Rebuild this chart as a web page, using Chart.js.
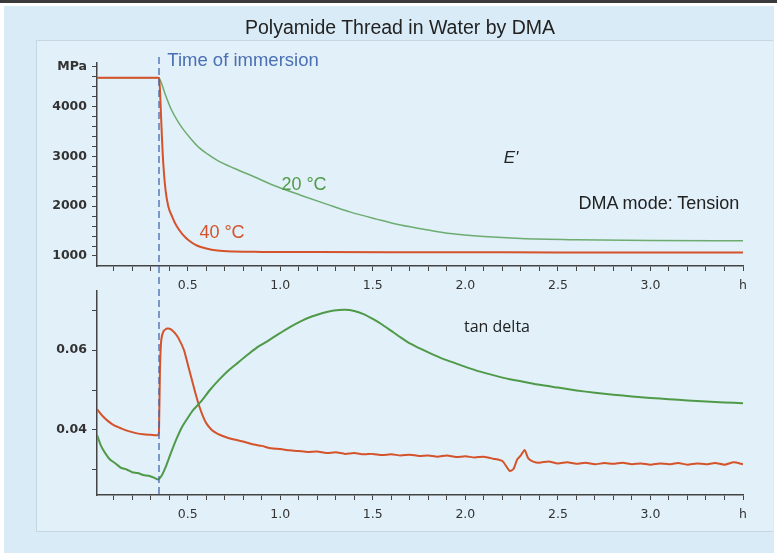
<!DOCTYPE html>
<html>
<head>
<meta charset="utf-8">
<script src="https://cdn.jsdelivr.net/npm/chart.js@4.4.0/dist/chart.umd.min.js"></script>
<style>
body { margin: 0; background: #fff; font-family: 'Liberation Sans', Arial, sans-serif; }
#page { position: relative; width: 777px; height: 553px; overflow: hidden; background: #fff; }
#rule { position: absolute; left: 0; top: 0; width: 777px; height: 3px; background: #3a3a3a; }
#outer { position: absolute; left: 4px; top: 6px; width: 770px; height: 547px; background: #d9ebf6; }
#inner { position: absolute; left: 36px; top: 40px; width: 736px; height: 490px; background: #e2f0f9; border: 1px solid #c5d7e3; border-right: none; }
.lbl { position: absolute; white-space: nowrap; transform: translate(-50%, -50%); }
canvas { position: absolute; left: 0; }
</style>
</head>
<body>
<div id="page">
  <div id="rule"></div>
  <div id="outer"></div>
  <div id="inner"></div>
  <canvas id="topChart" width="777" height="300" style="top:0"></canvas>
  <canvas id="botChart" width="777" height="283" style="top:270px"></canvas>
  <div class="lbl" style="left:400px;top:27px;font-size:19.5px;color:#222">Polyamide Thread in Water by DMA</div>
  <div class="lbl" style="left:243px;top:60px;font-size:18.5px;color:#4a6fb3">Time of immersion</div>
  <div class="lbl" style="left:511px;top:158px;font-size:17px;font-style:italic;color:#222">E'</div>
  <div class="lbl" style="left:304px;top:184px;font-size:18px;color:#4f9a48">20 °C</div>
  <div class="lbl" style="left:222px;top:232px;font-size:18px;color:#d4532a">40 °C</div>
  <div class="lbl" style="left:659px;top:203px;font-size:18px;color:#222">DMA mode: Tension</div>
  <div class="lbl" style="left:497px;top:326px;font-size:16px;color:#222;font-family:'Open Sans',sans-serif">tan delta</div>
</div>
<script>
// time of immersion in h
const immersionTime = 0.345;

// storage modulus E' (MPa)
const timeE20 = [0.01, 0.34, 0.345, 0.35, 0.36, 0.38, 0.41, 0.45, 0.48, 0.52, 0.56, 0.61, 0.66, 0.75, 0.84, 0.97, 1.11, 1.25, 1.38, 1.52, 1.65, 1.80, 1.92, 2.10, 2.30, 2.60, 3.00, 3.50];
const modE20 = [4575, 4575, 4572, 4540, 4450, 4230, 3950, 3680, 3520, 3340, 3180, 3040, 2920, 2760, 2620, 2410, 2220, 2040, 1880, 1740, 1620, 1520, 1450, 1390, 1350, 1325, 1310, 1305];
const timeE40 = [0.01, 0.34, 0.345, 0.35, 0.355, 0.36, 0.365, 0.372, 0.381, 0.395, 0.417, 0.44, 0.471, 0.51, 0.552, 0.60, 0.66, 0.75, 0.90, 1.20, 1.60, 2.00, 2.50, 3.00, 3.50];
const modE40 = [4575, 4575, 4570, 4350, 3900, 3450, 3050, 2650, 2300, 2000, 1780, 1600, 1440, 1300, 1205, 1150, 1110, 1090, 1082, 1078, 1075, 1073, 1072, 1071, 1070];

// tan delta
const timeTan20 = [0.01, 0.03, 0.05, 0.08, 0.11, 0.14, 0.17, 0.20, 0.23, 0.26, 0.29, 0.32, 0.34, 0.36, 0.38, 0.41, 0.44, 0.47, 0.50, 0.53, 0.57, 0.62, 0.67, 0.72, 0.77, 0.82, 0.87, 0.93, 0.99, 1.05, 1.11, 1.17, 1.23, 1.29, 1.35, 1.40, 1.45, 1.50, 1.55, 1.60, 1.65, 1.70, 1.76, 1.82, 1.88, 1.94, 2.00, 2.08, 2.16, 2.24, 2.32, 2.40, 2.50, 2.60, 2.70, 2.80, 2.90, 3.00, 3.10, 3.20, 3.30, 3.40, 3.50];
const tan20 = [0.0388, 0.0362, 0.0345, 0.0326, 0.0316, 0.0305, 0.0301, 0.0294, 0.0292, 0.0287, 0.0285, 0.0280, 0.0276, 0.0286, 0.0306, 0.0343, 0.0378, 0.0408, 0.0430, 0.0450, 0.0470, 0.0500, 0.0526, 0.0549, 0.0568, 0.0587, 0.0605, 0.0622, 0.0640, 0.0657, 0.0672, 0.0684, 0.0693, 0.0699, 0.0701, 0.0698, 0.0690, 0.0678, 0.0664, 0.0648, 0.0632, 0.0617, 0.0603, 0.0590, 0.0578, 0.0568, 0.0558, 0.0546, 0.0536, 0.0527, 0.0520, 0.0513, 0.0506, 0.0499, 0.0493, 0.0488, 0.0484, 0.0480, 0.0477, 0.0474, 0.0471, 0.0469, 0.0467];
const timeTan40 = [0.01, 0.04, 0.07, 0.10, 0.14, 0.18, 0.22, 0.26, 0.30, 0.34, 0.345, 0.350, 0.357, 0.37, 0.39, 0.41, 0.43, 0.45, 0.48, 0.50, 0.52, 0.54, 0.56, 0.58, 0.60, 0.63, 0.66, 0.70, 0.75, 0.80, 0.85, 0.90, 0.95, 1.00, 1.05, 1.10, 1.15, 1.20, 1.25, 1.30, 1.35, 1.40, 1.45, 1.50, 1.55, 1.60, 1.65, 1.70, 1.75, 1.80, 1.85, 1.90, 1.95, 2.00, 2.05, 2.10, 2.15, 2.20, 2.24, 2.26, 2.28, 2.30, 2.32, 2.34, 2.37, 2.40, 2.45, 2.50, 2.55, 2.60, 2.65, 2.70, 2.75, 2.80, 2.85, 2.90, 2.95, 3.00, 3.05, 3.10, 3.15, 3.20, 3.25, 3.30, 3.35, 3.40, 3.45, 3.50];
const tan40 = [0.0452, 0.0435, 0.0422, 0.0412, 0.0404, 0.0397, 0.0392, 0.0389, 0.0388, 0.0387, 0.0400, 0.0548, 0.0625, 0.0648, 0.0654, 0.0652, 0.0643, 0.0630, 0.0600, 0.0565, 0.0530, 0.0495, 0.0463, 0.0437, 0.0417, 0.0400, 0.0391, 0.0383, 0.0376, 0.0371, 0.0364, 0.0360, 0.0354, 0.0352, 0.0349, 0.0347, 0.0345, 0.0346, 0.0342, 0.0344, 0.0340, 0.0342, 0.0339, 0.0340, 0.0337, 0.0339, 0.0336, 0.0338, 0.0335, 0.0336, 0.0333, 0.0336, 0.0332, 0.0334, 0.0331, 0.0333, 0.0328, 0.0322, 0.0297, 0.0302, 0.0326, 0.0336, 0.0350, 0.0329, 0.0320, 0.0318, 0.0321, 0.0316, 0.0319, 0.0315, 0.0318, 0.0314, 0.0317, 0.0315, 0.0318, 0.0314, 0.0316, 0.0313, 0.0316, 0.0314, 0.0317, 0.0313, 0.0316, 0.0314, 0.0317, 0.0313, 0.0319, 0.0314];

// axis ticks
const xMajor = [0.5, 1.0, 1.5, 2.0, 2.5, 3.0];
const xUnit = 'h';
const yTopMajor = [1000, 2000, 3000, 4000];
const yTopUnit = 'MPa';
const yBotMajor = [0.04, 0.06];

const green = '#4f9a48';
const red = '#d4532a';

function pts(xs, ys) {
    return xs.map((x, i) => ({ x: x, y: ys[i] }));
}

const xTicks = [];
for (let i = 1; i <= 35; i++) xTicks.push(i / 10);

function near(a, b) { return Math.abs(a - b) < 1e-6; }

function xAxis() {
    return {
        type: 'linear', min: 0.01, max: 3.5,
        afterBuildTicks: axis => { axis.ticks = xTicks.map(v => ({ value: v })); },
        afterFit: axis => { axis.height = 34; },
        ticks: {
            autoSkip: false, maxRotation: 0, padding: 7, color: '#333',
            font: { family: 'DejaVu Sans', size: 12.5 },
            callback: v => near(v, 3.5) ? xUnit : (xMajor.some(m => near(m, v)) ? v.toFixed(1) : '')
        },
        grid: { drawOnChartArea: false, drawTicks: true, tickLength: 5, tickColor: '#444' },
        border: { color: '#444', width: 1.5 }
    };
}

function yAxis(min, max, ticks, label) {
    return {
        min: min, max: max,
        afterBuildTicks: axis => { axis.ticks = ticks.map(v => ({ value: v })); },
        afterFit: axis => { axis.width = 60; },
        ticks: {
            autoSkip: false, padding: 5, color: '#333',
            font: { family: 'DejaVu Sans', size: 12.5, weight: 'bold' },
            callback: label
        },
        grid: { drawOnChartArea: false, drawTicks: true, tickLength: 5, tickColor: '#444' },
        border: { color: '#444', width: 1.5 }
    };
}

const immersionLine = {
    id: 'immersionLine',
    afterDatasetsDraw(chart, args, opts) {
        const x = chart.scales.x.getPixelForValue(immersionTime);
        const c = chart.ctx;
        c.save();
        c.strokeStyle = '#4568b0';
        c.lineWidth = 1.3;
        c.setLineDash([7, 4]);
        c.lineDashOffset = opts.offset || 0;
        c.beginPath();
        c.moveTo(x, opts.from);
        c.lineTo(x, opts.to == null ? chart.chartArea.bottom : opts.to);
        c.stroke();
        c.restore();
    }
};

const topTicks = [];
for (let v = 1000; v <= 4800; v += 200) topTicks.push(v);

const topChart = new Chart(document.getElementById('topChart'), {
    type: 'line',
    data: {
        datasets: [
            { label: '40 °C', data: pts(timeE40, modE40), borderColor: red, borderWidth: 2, pointRadius: 0, cubicInterpolationMode: 'monotone' },
            { label: '20 °C', data: pts(timeE20, modE20), borderColor: 'rgba(70,150,65,0.75)', borderWidth: 1.5, pointRadius: 0, cubicInterpolationMode: 'monotone' }
        ]
    },
    options: {
        responsive: false, animation: false,
        layout: { padding: { left: 37, right: 34, top: 63, bottom: 0 } },
        plugins: { legend: { display: false }, tooltip: { enabled: false }, immersionLine: { from: 57, to: 285 } },
        scales: {
            x: xAxis(),
            y: yAxis(799, 4873, topTicks, v => v === 4800 ? yTopUnit : (yTopMajor.includes(v) ? String(v) : ''))
        }
    },
    plugins: [immersionLine]
});

const botChart = new Chart(document.getElementById('botChart'), {
    type: 'line',
    data: {
        datasets: [
            { label: '20 °C', data: pts(timeTan20, tan20), borderColor: green, borderWidth: 2, pointRadius: 0, tension: 0.2 },
            { label: '40 °C', data: pts(timeTan40, tan40), borderColor: red, borderWidth: 2, pointRadius: 0, tension: 0.2 }
        ]
    },
    options: {
        responsive: false, animation: false,
        layout: { padding: { left: 37, right: 34, top: 21, bottom: 24 } },
        plugins: { legend: { display: false }, tooltip: { enabled: false }, immersionLine: { from: 15, offset: 7 } },
        scales: {
            x: xAxis(),
            y: yAxis(0.0237, 0.0748, [0.03, 0.04, 0.05, 0.06, 0.07], v => yBotMajor.some(m => near(m, v)) ? v.toFixed(2) : '')
        }
    },
    plugins: [immersionLine]
});
</script>
</body>
</html>
